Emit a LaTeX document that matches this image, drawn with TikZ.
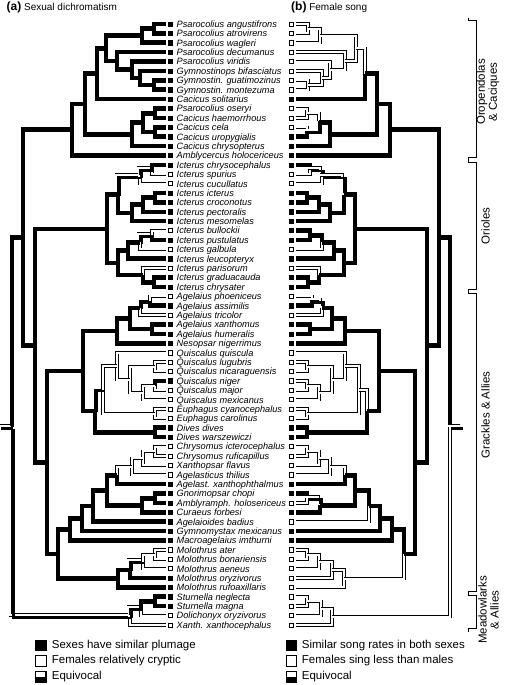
\documentclass[tikz,border=0pt]{standalone}
\usepackage{fontspec}
\setmainfont{Liberation Sans}
\usetikzlibrary{calc}

\colorlet{blk}{black}
\colorlet{wht}{white}

\tikzset{
  blk/.style={draw=black, line width=4.6pt},
  wht/.style={draw=black, line width=0.7pt, double=white, double distance=2pt},
  tipmark/.style={draw=black, line width=0.5pt, minimum size=4.2pt, inner sep=0pt, fill=#1},
  spname/.style={anchor=base west, inner sep=0pt, font=\fontsize{9.2}{9.4}\selectfont\itshape},
  grp/.style={rotate=90, align=center, inner sep=0pt, font=\fontsize{11.5}{12}\selectfont},
  keybox/.style={draw=black, line width=0.7pt, minimum size=10.5pt, inner sep=0pt},
  keytext/.style={anchor=west, inner sep=0pt, font=\fontsize{11.5}{13}\selectfont},
  brk/.style={draw=black, line width=0.9pt},
}

% one branch: blk, wht or eqv (black and white side by side)
\def\eqtag{eqv}
\newcommand\drawtwig[3]{%
  \edef\bst{#3}%
  \ifx\bst\eqtag
    \draw[wht, transform canvas={shift={(-1.6pt,1.6pt)}}] (#1) |- (#2);
    \draw[blk, line width=2.4pt, transform canvas={shift={(1.3pt,-1.3pt)}}] (#1) |- (#2);
  \else
    \draw[\bst] (#1) |- (#2);
  \fi}

% clade: name, left x, child a, a left/right, child b, b left/right
\newcommand\mkclade[8]{%
  \coordinate (tmp) at ($(L#3)!.5!(L#6)$);
  \coordinate (L#1) at (#2,0 |- tmp);
  \coordinate (tmp) at ($(R#3)!.5!(R#6)$);
  \coordinate (R#1) at ({462-#2},0 |- tmp);
  \drawtwig{L#1}{L#3}{#4}\drawtwig{R#1}{R#3}{#5}%
  \drawtwig{L#1}{L#6}{#7}\drawtwig{R#1}{R#6}{#8}}

\begin{document}
\begin{tikzpicture}[x=1pt, y=-1pt]
        \useasboundingbox (0,0) rectangle (505,685);

        % Titles
        \node[anchor=base west, inner sep=0pt, font=\fontsize{10}{12}\selectfont] (ta) at (6.5, 10.7) {{\fontsize{12}{12}\selectfont\bfseries(a)} Sexual dichromatism};
        \node[anchor=base west, inner sep=0pt, font=\fontsize{10}{12}\selectfont] (tb) at (291, 10.7) {{\fontsize{12}{12}\selectfont\bfseries(b)} Female song};

        % Species, tip states (left / right)
        \foreach \i/\spc/\sl/\sr in {
            1/Psarocolius angustifrons/blk/wht, 2/Psarocolius atrovirens/blk/wht,
            3/Psarocolius wagleri/blk/wht, 4/Psarocolius decumanus/blk/wht,
            5/Psarocolius viridis/blk/wht, 6/Gymnostinops bifasciatus/blk/wht,
            7/Gymnostin. guatimozinus/blk/wht, 8/Gymnostin. montezuma/blk/wht,
            9/Cacicus solitarius/blk/blk, 10/Psarocolius oseryi/blk/wht,
            11/Cacicus haemorrhous/blk/wht, 12/Cacicus cela/blk/wht,
            13/Cacicus uropygialis/blk/blk, 14/Cacicus chrysopterus/blk/blk,
            15/Amblycercus holocericeus/blk/blk, 16/Icterus chrysocephalus/blk/blk,
            17/Icterus spurius/wht/wht, 18/Icterus cucullatus/wht/wht,
            19/Icterus icterus/blk/blk, 20/Icterus croconotus/blk/blk,
            21/Icterus pectoralis/blk/blk, 22/Icterus mesomelas/blk/blk,
            23/Icterus bullockii/wht/blk, 24/Icterus pustulatus/blk/blk,
            25/Icterus galbula/wht/wht, 26/Icterus leucopteryx/blk/blk,
            27/Icterus parisorum/wht/wht, 28/Icterus graduacauda/blk/blk,
            29/Icterus chrysater/blk/blk, 30/Agelaius phoeniceus/wht/wht,
            31/Agelaius assimilis/blk/blk, 32/Agelaius tricolor/wht/wht,
            33/Agelaius xanthomus/blk/blk, 34/Agelaius humeralis/blk/blk,
            35/Nesopsar nigerrimus/blk/blk, 36/Quiscalus quiscula/wht/wht,
            37/Quiscalus lugubris/wht/wht, 38/Quiscalus nicaraguensis/wht/wht,
            39/Quiscalus niger/blk/wht, 40/Quiscalus major/wht/wht,
            41/Quiscalus mexicanus/wht/wht, 42/Euphagus cyanocephalus/wht/wht,
            43/Euphagus carolinus/wht/wht, 44/Dives dives/blk/blk,
            45/Dives warszewiczi/blk/blk, 46/Chrysomus icterocephalus/wht/wht,
            47/Chrysomus ruficapillus/wht/wht, 48/Xanthopsar flavus/wht/wht,
            49/Agelasticus thilius/wht/wht, 50/Agelast. xanthophthalmus/blk/blk,
            51/Gnorimopsar chopi/blk/blk, 52/Amblyramph. holosericeus/blk/wht,
            53/Curaeus forbesi/blk/blk, 54/Agelaioides badius/blk/wht,
            55/Gymnomystax mexicanus/blk/blk, 56/Macroagelaius imthurni/blk/blk,
            57/Molothrus ater/wht/wht, 58/Molothrus bonariensis/wht/wht,
            59/Molothrus aeneus/wht/wht, 60/Molothrus oryzivorus/blk/wht,
            61/Molothrus rufoaxillaris/blk/wht, 62/Sturnella neglecta/blk/wht,
            63/Sturnella magna/blk/wht, 64/Dolichonyx oryzivorus/wht/wht,
            65/Xanth. xanthocephalus/wht/wht} {
            \coordinate (Ls\i) at (166, {24+9.39*(\i-1)});
            \coordinate (Rs\i) at (296, {24+9.39*(\i-1)});
            \node[tipmark=\sl] (Lm\i) at (170.3, {24+9.39*(\i-1)}) {};
            \node[tipmark=\sr] (Rm\i) at (291.5, {24+9.39*(\i-1)}) {};
            \node[spname] (t\i) at (176.5, {27.4+9.39*(\i-1)}) {\spc};
        }

        % Oropendolas & Caciques
        \mkclade{n12}{154}{s1}{blk}{wht}{s2}{blk}{wht}
        \mkclade{n123}{142}{n12}{blk}{wht}{s3}{blk}{wht}
        \mkclade{n78}{154}{s7}{blk}{wht}{s8}{blk}{wht}
        \mkclade{n678}{140}{s6}{blk}{wht}{n78}{blk}{wht}
        \mkclade{n5to8}{132}{s5}{blk}{wht}{n678}{blk}{wht}
        \mkclade{n4to8}{117}{s4}{blk}{wht}{n5to8}{blk}{wht}
        \mkclade{n1to8}{106}{n123}{blk}{wht}{n4to8}{blk}{wht}
        \mkclade{n1to9}{97}{n1to8}{blk}{wht}{s9}{blk}{blk}
        \mkclade{n1011}{155}{s10}{blk}{wht}{s11}{blk}{wht}
        \mkclade{n1213}{155}{s12}{blk}{wht}{s13}{blk}{blk}
        \mkclade{n10to13}{143}{n1011}{blk}{wht}{n1213}{blk}{eqv}
        \mkclade{n10to14}{132}{n10to13}{blk}{blk}{s14}{blk}{blk}
        \mkclade{n1to14}{85}{n1to9}{blk}{blk}{n10to14}{blk}{blk}
        \mkclade{oro}{72}{n1to14}{blk}{blk}{s15}{blk}{blk}

        % Orioles
        \mkclade{n1617}{152}{s16}{blk}{blk}{s17}{wht}{wht}
        \mkclade{n16to18}{140}{n1617}{eqv}{eqv}{s18}{wht}{wht}
        \mkclade{n1920}{155}{s19}{blk}{blk}{s20}{blk}{blk}
        \mkclade{n19to21}{143}{n1920}{blk}{blk}{s21}{blk}{blk}
        \mkclade{n19to22}{132}{n19to21}{blk}{blk}{s22}{blk}{blk}
        \mkclade{n16to22}{118}{n16to18}{eqv}{eqv}{n19to22}{blk}{blk}
        \mkclade{n2324}{152}{s23}{wht}{blk}{s24}{blk}{blk}
        \mkclade{n23to25}{140}{n2324}{eqv}{blk}{s25}{wht}{wht}
        \mkclade{n23to26}{128}{n23to25}{blk}{blk}{s26}{blk}{blk}
        \mkclade{n2829}{154}{s28}{blk}{blk}{s29}{blk}{blk}
        \mkclade{n27to29}{143}{s27}{wht}{wht}{n2829}{blk}{blk}
        \mkclade{n23to29}{118}{n23to26}{blk}{blk}{n27to29}{blk}{blk}
        \mkclade{ori}{107}{n16to22}{blk}{blk}{n23to29}{blk}{blk}

        % Grackles & Allies
        \mkclade{n3031}{150}{s30}{wht}{wht}{s31}{blk}{blk}
        \mkclade{n30to32}{140}{n3031}{eqv}{eqv}{s32}{wht}{wht}
        \mkclade{n3334}{152}{s33}{blk}{blk}{s34}{blk}{blk}
        \mkclade{n30to34}{130}{n30to32}{blk}{blk}{n3334}{blk}{blk}
        \mkclade{n30to35}{117}{n30to34}{blk}{blk}{s35}{blk}{blk}
        \mkclade{n3738}{155}{s37}{wht}{wht}{s38}{wht}{wht}
        \mkclade{n3940}{155}{s39}{blk}{wht}{s40}{wht}{wht}
        \mkclade{n39to41}{143}{n3940}{wht}{wht}{s41}{wht}{wht}
        \mkclade{n37to41}{130}{n3738}{wht}{wht}{n39to41}{wht}{wht}
        \mkclade{n36to41}{117}{s36}{wht}{wht}{n37to41}{wht}{wht}
        \mkclade{n4243}{155}{s42}{wht}{wht}{s43}{wht}{wht}
        \mkclade{n36to43}{103}{n36to41}{wht}{wht}{n4243}{wht}{wht}
        \mkclade{n4445}{155}{s44}{blk}{blk}{s45}{blk}{blk}
        \mkclade{n36to45}{95}{n36to43}{eqv}{wht}{n4445}{blk}{blk}
        \mkclade{n30to45}{83}{n30to35}{blk}{blk}{n36to45}{blk}{blk}
        \mkclade{n4647}{155}{s46}{wht}{wht}{s47}{wht}{wht}
        \mkclade{n46to48}{143}{n4647}{wht}{wht}{s48}{wht}{wht}
        \mkclade{n46to49}{132}{n46to48}{wht}{wht}{s49}{wht}{wht}
        \mkclade{n46to50}{117}{n46to49}{wht}{wht}{s50}{blk}{blk}
        \mkclade{n5152}{155}{s51}{blk}{blk}{s52}{blk}{wht}
        \mkclade{n51to53}{142}{n5152}{blk}{eqv}{s53}{blk}{blk}
        \mkclade{n46to53}{107}{n46to50}{blk}{blk}{n51to53}{blk}{blk}
        \mkclade{n46to54}{93}{n46to53}{blk}{blk}{s54}{blk}{wht}
        \mkclade{n46to55}{82}{n46to54}{blk}{blk}{s55}{blk}{blk}
        \mkclade{n46to56}{70}{n46to55}{blk}{blk}{s56}{blk}{blk}
        \mkclade{n5758}{155}{s57}{wht}{wht}{s58}{wht}{wht}
        \mkclade{n57to59}{143}{n5758}{wht}{wht}{s59}{wht}{wht}
        \mkclade{n57to60}{130}{n57to59}{eqv}{wht}{s60}{blk}{wht}
        \mkclade{mol}{118}{n57to60}{blk}{wht}{s61}{blk}{wht}
        \mkclade{n46to61}{58}{n46to56}{blk}{blk}{mol}{blk}{wht}
        \mkclade{n30to61}{47}{n30to45}{blk}{blk}{n46to61}{blk}{blk}

        % Meadowlarks & Allies
        \mkclade{n6263}{155}{s62}{blk}{wht}{s63}{blk}{wht}
        \mkclade{n62to64}{141}{n6263}{blk}{wht}{s64}{wht}{wht}
        \mkclade{mead}{130}{n62to64}{eqv}{wht}{s65}{wht}{wht}

        % Backbone and root
        \mkclade{icc}{35}{ori}{blk}{blk}{n30to61}{blk}{blk}
        \mkclade{bb}{23}{oro}{blk}{blk}{icc}{blk}{blk}
        \mkclade{root}{12}{bb}{blk}{blk}{mead}{eqv}{wht}
        \coordinate (Lstub) at (0,0 |- Lroot);
        \coordinate (Rstub) at (462,0 |- Rroot);
        \drawtwig{Lroot}{Lstub}{eqv}
        \drawtwig{Rroot}{Rstub}{eqv}

        % Group brackets
        \foreach \top/\bot in {20.7/157, 162.5/289, 293.5/591.5, 595.5/628.5} {
            \draw[brk] (468.5,\top-3) -- (468.5,\top) -- (476,\top) -- (476,\bot) -- (468.5,\bot) -- (468.5,\bot+3);
        }
        \node[grp] (gOro) at (488, 92) {Oropendolas\\\& Caciques};
        \node[grp] (gOri) at (485.5, 226) {Orioles};
        \node[grp] (gGra) at (485.5, 415) {Grackles \& Allies};
        \node[grp] (gMea) at (488.5, 610) {Meadowlarks\\\& Allies};

        % Legends
        \node[keybox, fill=black] (kL1) at (40.8, 645.3) {};
        \node[keybox, fill=white] (kL2) at (40.8, 661) {};
        \node[keybox, fill=black] (kL3) at (40.8, 676.7) {};
        \fill[white] ($(kL3.north west)+(1.2,1.2)$) rectangle ($(kL3.east)+(-1.2,0)$);
        \node[keytext] (kL1t) at (51.7, 645.3) {Sexes have similar plumage};
        \node[keytext] (kL2t) at (51.7, 661) {Females relatively cryptic};
        \node[keytext] (kL3t) at (51.7, 676.7) {Equivocal};

        \node[keybox, fill=black] (kR1) at (291.3, 645.3) {};
        \node[keybox, fill=white] (kR2) at (291.3, 661) {};
        \node[keybox, fill=black] (kR3) at (291.3, 676.7) {};
        \fill[white] ($(kR3.north west)+(1.2,1.2)$) rectangle ($(kR3.east)+(-1.2,0)$);
        \node[keytext] (kR1t) at (301.7, 645.3) {Similar song rates in both sexes};
        \node[keytext] (kR2t) at (301.7, 661) {Females sing less than males};
        \node[keytext] (kR3t) at (301.7, 676.7) {Equivocal};
    \end{tikzpicture}
\end{document}
